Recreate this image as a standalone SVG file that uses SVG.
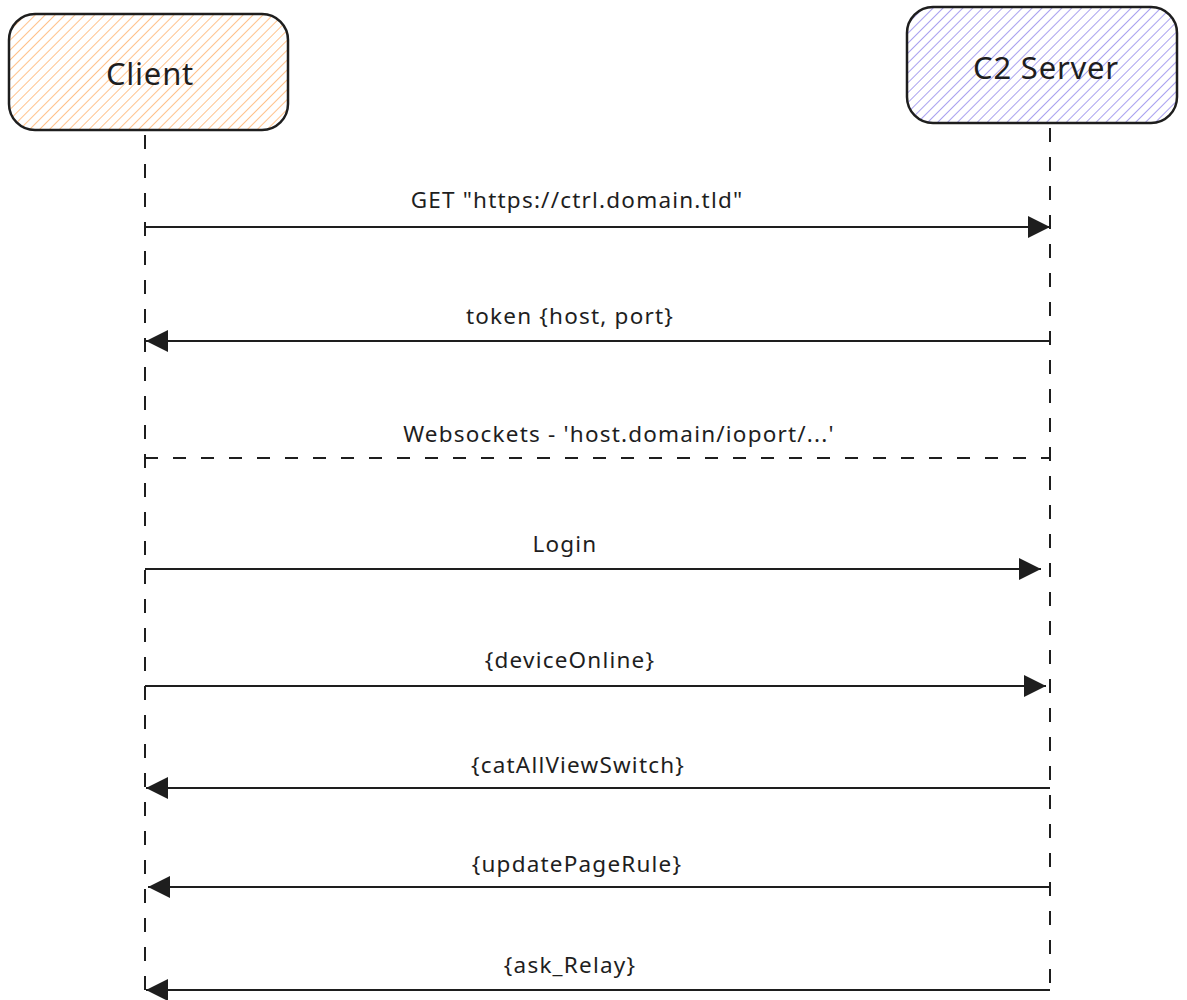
<svg xmlns="http://www.w3.org/2000/svg" width="1187" height="1000" viewBox="0 0 1187 1000">
<defs>
<pattern id="hOrange" patternUnits="userSpaceOnUse" width="7" height="7" patternTransform="rotate(45)">
<line x1="0" y1="0" x2="0" y2="7" stroke="#ffc28c" stroke-width="2"/>
</pattern>
<pattern id="hPurple" patternUnits="userSpaceOnUse" width="7" height="7" patternTransform="rotate(45)">
<line x1="0" y1="0" x2="0" y2="7" stroke="#a9a1ef" stroke-width="2"/>
</pattern>
<marker id="ah" viewBox="0 0 22 22" refX="22" refY="11" markerWidth="22" markerHeight="22" markerUnits="userSpaceOnUse" orient="auto">
<path d="M0,0 L22,11 L0,22 Z" fill="#1e1e1e"/>
</marker>
</defs>
<style>
.box{stroke:#1e1e1e;stroke-width:2.5}
.title{font-family:"Noto Sans","Lato",sans-serif;font-size:31px;letter-spacing:0.8px;fill:#1e1e1e;text-anchor:middle}
.lbl{font-family:"Noto Sans","Lato",sans-serif;font-size:22.5px;letter-spacing:1.2px;fill:#1e1e1e;text-anchor:middle}
.life{stroke:#1e1e1e;stroke-width:2;stroke-dasharray:14 15;fill:none}
.msg{stroke:#1e1e1e;stroke-width:2;fill:none}
.arr{marker-end:url(#ah)}
.dash{stroke-dasharray:13 15}
</style>
<rect width="1187" height="1000" fill="#ffffff"/>
<g id="client">
<rect x="9" y="14" width="279" height="116" rx="26" fill="url(#hOrange)" class="box"/>
<text x="150" y="85" class="title">Client</text>
</g>
<g id="server">
<rect x="907" y="7" width="270" height="116" rx="26" fill="url(#hPurple)" class="box"/>
<text x="1046" y="79" class="title">C2 Server</text>
</g>
<g id="lifelines">
<line x1="145" y1="135" x2="145" y2="995" class="life"/>
<line x1="1050" y1="128" x2="1050" y2="990" class="life"/>
</g>
<g id="connectors">
<line x1="145" y1="227" x2="1050" y2="227" class="msg arr"/>
<line x1="1050" y1="341" x2="146" y2="341" class="msg arr"/>
<line x1="145" y1="458" x2="1050" y2="458" class="msg dash"/>
<line x1="145" y1="569" x2="1041" y2="569" class="msg arr"/>
<line x1="145" y1="686" x2="1046" y2="686" class="msg arr"/>
<line x1="1050" y1="788" x2="146" y2="788" class="msg arr"/>
<line x1="1050" y1="887" x2="148" y2="887" class="msg arr"/>
<line x1="1050" y1="990" x2="146" y2="990" class="msg arr"/>
</g>
<g id="labels">
<text x="577" y="208" class="lbl">GET "https://ctrl.domain.tld"</text>
<text x="570" y="324" class="lbl">token {host, port}</text>
<text x="619" y="442" class="lbl">Websockets - 'host.domain/ioport/...'</text>
<text x="565" y="552" class="lbl">Login</text>
<text x="570" y="668" class="lbl">{deviceOnline}</text>
<text x="578" y="773" class="lbl">{catAllViewSwitch}</text>
<text x="577" y="872" class="lbl">{updatePageRule}</text>
<text x="570" y="973" class="lbl">{ask_Relay}</text>
</g>
</svg>
